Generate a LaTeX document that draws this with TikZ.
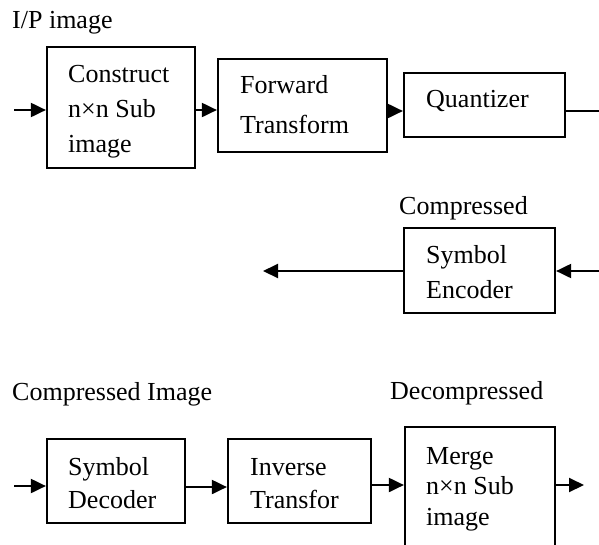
\documentclass[tikz,border=0pt]{standalone}
\usepackage{fontspec}
\setmainfont{Liberation Serif}
\usetikzlibrary{arrows.meta}
\begin{document}
\begin{tikzpicture}[x=1pt,y=-1pt,
  box/.style={draw, line width=2.2pt, rectangle, inner sep=0pt},
  flow/.style={line width=2pt, -{Triangle[length=15pt,width=14pt]}},
  wire/.style={line width=2pt},
  % multi-line labels are placed by the baseline of their last line
  txt/.style={anchor=base west, align=left, inner sep=0pt,
              font=\fontsize{26}{#1}\selectfont},
  txt/.default=35,
]
\useasboundingbox (0,0) rectangle (599,544);

% ---- compression chain ----
\node[txt] (lblin) at (12,28) {I/P image};
\node[box, minimum width=148pt, minimum height=121pt] (cons) at (121,107.5) {};
\node[txt] (consT) at (68,152) {Construct\\n×n Sub\\image};
\node[box, minimum width=169pt, minimum height=93pt] (fwd) at (302.5,105.5) {};
\node[txt=40] (fwdT) at (240,133) {Forward\\Transform};
\node[box, minimum width=161pt, minimum height=64pt] (quant) at (484.5,105) {};
\node[txt] (quantT) at (426,107) {Quantizer};

\node[txt] (lblcomp) at (399,214) {Compressed};
\node[box, minimum width=151pt, minimum height=85pt] (enc) at (479.5,270.5) {};
\node[txt] (encT) at (426,298) {Symbol\\Encoder};

% ---- decompression chain ----
\node[txt] (lblcimg) at (12,400) {Compressed Image};
\node[txt] (lbldec) at (390,399) {Decompressed};
\node[box, minimum width=138pt, minimum height=84pt] (dec) at (116,481) {};
\node[txt=33] (decT) at (68,508) {Symbol\\Decoder};
\node[box, minimum width=143pt, minimum height=84pt] (inv) at (299.5,481) {};
\node[txt=33] (invT) at (250,508) {Inverse\\Transfor};
\node[box, minimum width=150pt, minimum height=119pt] (mrg) at (480,486.5) {};
\node[txt=30.5] (mrgT) at (426,525) {Merge\\n×n Sub\\image};

% ---- connectors ----
\coordinate (src) at (14,110);
\draw[flow] (src) -- (src -| cons.west);
\coordinate (r1) at (0,110);
\draw[flow] (cons.east |- r1) -- (fwd.west |- r1);
\coordinate (r2) at (0,111);
\draw[flow] (fwd.east |- r2) -- (quant.west |- r2);
\coordinate (qout) at (599,111);
\draw[wire] (quant.east |- qout) -- (qout);
\coordinate (encin) at (599,271);
\draw[flow] (encin) -- (encin -| enc.east);
\coordinate (encout) at (263,271);
\draw[flow] (encout -| enc.west) -- (encout);

\coordinate (decin) at (14,486);
\draw[flow] (decin) -- (decin -| dec.west);
\coordinate (r3) at (0,487);
\draw[flow] (dec.east |- r3) -- (inv.west |- r3);
\coordinate (r4) at (0,485);
\draw[flow] (inv.east |- r4) -- (mrg.west |- r4);
\coordinate (out) at (584,485);
\draw[flow] (mrg.east |- out) -- (out);
\end{tikzpicture}
\end{document}
